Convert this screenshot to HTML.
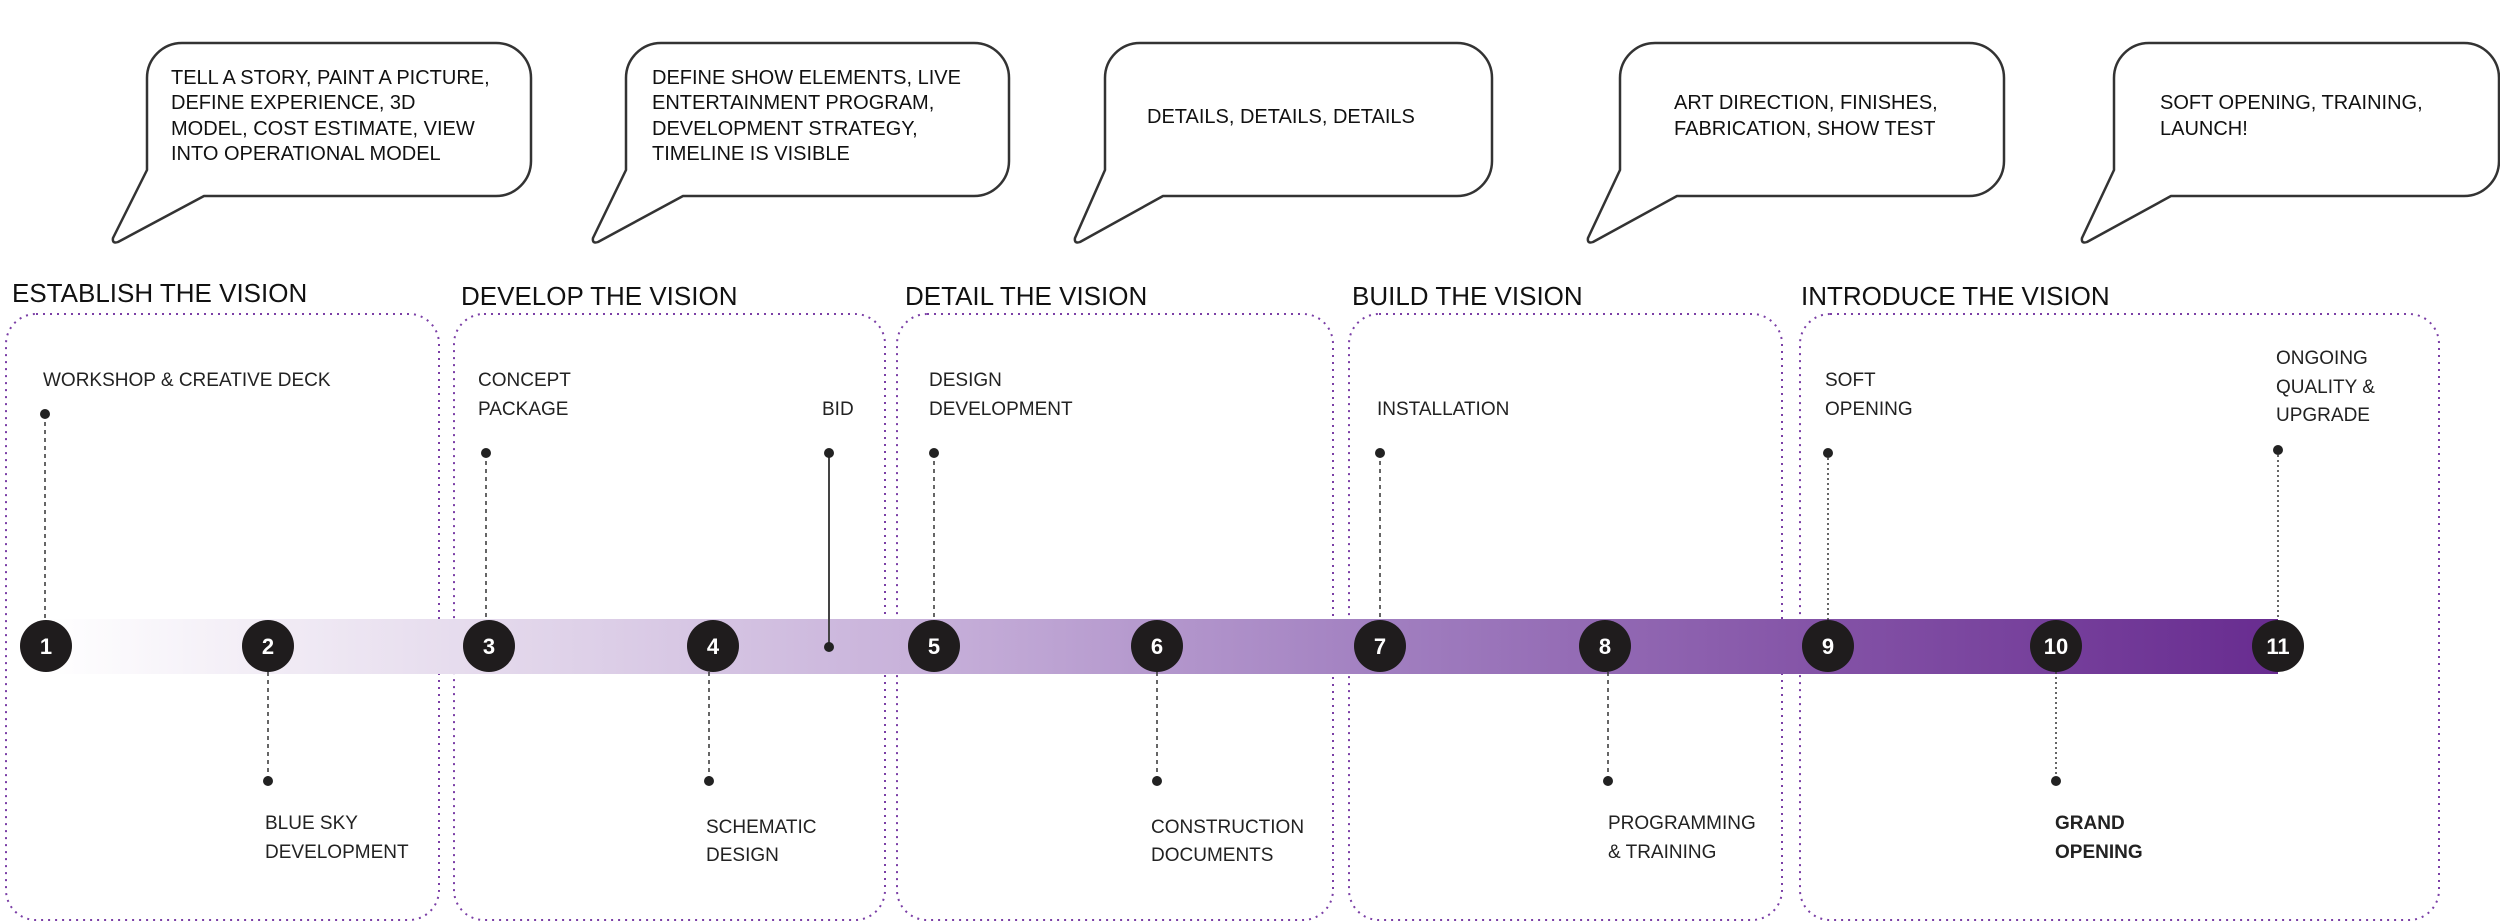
<!DOCTYPE html>
<html><head><meta charset="utf-8"><style>
html,body{margin:0;padding:0;background:#fff;width:2500px;height:922px;overflow:hidden}
svg text{font-family:"Liberation Sans",sans-serif}
.b{font-size:20px;fill:#111}
.h{font-size:26px;fill:#111}
.l{font-size:19px;fill:#222}
.n{font-size:22px;fill:#fff;font-weight:bold}
</style></head><body>
<svg width="2500" height="922" viewBox="0 0 2500 922" xmlns="http://www.w3.org/2000/svg">
<defs>
<linearGradient id="g" x1="46" y1="0" x2="2278" y2="0" gradientUnits="userSpaceOnUse">
<stop offset="0" stop-color="#ffffff"/>
<stop offset="0.2" stop-color="#e4d9ec"/>
<stop offset="0.4" stop-color="#c6afd9"/>
<stop offset="0.6" stop-color="#a17fc0"/>
<stop offset="0.8" stop-color="#8352a6"/>
<stop offset="1" stop-color="#682c90"/>
</linearGradient>
</defs>
<g fill="none" stroke="#333" stroke-width="2.5" stroke-linejoin="round">
<path d="M182,43 H496 A35,35 0 0 1 531,78 V161 A35,35 0 0 1 496,196 H204 L118,242 Q112,244 113,238 L147,170 V78 A35,35 0 0 1 182,43 Z"/>
<path d="M661,43 H974 A35,35 0 0 1 1009,78 V161 A35,35 0 0 1 974,196 H683 L598,242 Q592,244 593,238 L626,170 V78 A35,35 0 0 1 661,43 Z"/>
<path d="M1140,43 H1457 A35,35 0 0 1 1492,78 V161 A35,35 0 0 1 1457,196 H1163 L1080,242 Q1074,244 1075,238 L1105,170 V78 A35,35 0 0 1 1140,43 Z"/>
<path d="M1655,43 H1969 A35,35 0 0 1 2004,78 V161 A35,35 0 0 1 1969,196 H1677 L1593,242 Q1587,244 1588,238 L1620,170 V78 A35,35 0 0 1 1655,43 Z"/>
<path d="M2149,43 H2464 A35,35 0 0 1 2499,78 V161 A35,35 0 0 1 2464,196 H2171 L2087,242 Q2081,244 2082,238 L2114,170 V78 A35,35 0 0 1 2149,43 Z"/>
</g>
<text class="b" x="171" y="84">TELL A STORY, PAINT A PICTURE,</text>
<text class="b" x="171" y="109">DEFINE EXPERIENCE, 3D</text>
<text class="b" x="171" y="135">MODEL, COST ESTIMATE, VIEW</text>
<text class="b" x="171" y="160">INTO OPERATIONAL MODEL</text>
<text class="b" x="652" y="84">DEFINE SHOW ELEMENTS, LIVE</text>
<text class="b" x="652" y="109">ENTERTAINMENT PROGRAM,</text>
<text class="b" x="652" y="135">DEVELOPMENT STRATEGY,</text>
<text class="b" x="652" y="160">TIMELINE IS VISIBLE</text>
<text class="b" x="1147" y="123">DETAILS, DETAILS, DETAILS</text>
<text class="b" x="1674" y="109">ART DIRECTION, FINISHES,</text>
<text class="b" x="1674" y="135">FABRICATION, SHOW TEST</text>
<text class="b" x="2160" y="109">SOFT OPENING, TRAINING,</text>
<text class="b" x="2160" y="135">LAUNCH!</text>

<text class="h" x="12" y="302">ESTABLISH THE VISION</text>
<text class="h" x="461" y="305">DEVELOP THE VISION</text>
<text class="h" x="905" y="305">DETAIL THE VISION</text>
<text class="h" x="1352" y="305">BUILD THE VISION</text>
<text class="h" x="1801" y="305">INTRODUCE THE VISION</text>

<g fill="none" stroke="#7b3fa6" stroke-width="2" stroke-dasharray="2 5">
<rect x="6" y="314" width="433" height="606" rx="30"/>
<rect x="454" y="314" width="431" height="606" rx="30"/>
<rect x="897" y="314" width="436" height="606" rx="30"/>
<rect x="1349" y="314" width="433" height="606" rx="30"/>
<rect x="1800" y="314" width="639" height="606" rx="30"/>
</g>

<rect x="46" y="619" width="2232" height="55" fill="url(#g)"/>

<g stroke="#333" stroke-width="1.5" stroke-dasharray="4 4">
<line x1="45" y1="414" x2="45" y2="620"/>
<line x1="268" y1="672" x2="268" y2="781"/>
<line x1="486" y1="453" x2="486" y2="620"/>
<line x1="709" y1="672" x2="709" y2="781"/>
<line x1="934" y1="453" x2="934" y2="620"/>
<line x1="1157" y1="672" x2="1157" y2="781"/>
<line x1="1380" y1="453" x2="1380" y2="620"/>
<line x1="1608" y1="672" x2="1608" y2="781"/>
</g>
<g stroke="#333" stroke-width="1.5" stroke-dasharray="2 3">
<line x1="1828" y1="453" x2="1828" y2="620"/>
<line x1="2056" y1="672" x2="2056" y2="781"/>
<line x1="2278" y1="450" x2="2278" y2="620"/>
</g>
<line x1="829" y1="453" x2="829" y2="647" stroke="#444" stroke-width="2"/>

<g fill="#222">
<circle cx="45" cy="414" r="5"/><circle cx="268" cy="781" r="5"/><circle cx="486" cy="453" r="5"/>
<circle cx="829" cy="453" r="5"/><circle cx="829" cy="647" r="5"/><circle cx="709" cy="781" r="5"/>
<circle cx="934" cy="453" r="5"/><circle cx="1157" cy="781" r="5"/><circle cx="1380" cy="453" r="5"/>
<circle cx="1608" cy="781" r="5"/><circle cx="1828" cy="453" r="5"/><circle cx="2056" cy="781" r="5"/>
<circle cx="2278" cy="450" r="5"/>
</g>

<g fill="#1f1c1d">
<circle cx="46" cy="646" r="26"/><circle cx="268" cy="646" r="26"/><circle cx="489" cy="646" r="26"/>
<circle cx="713" cy="646" r="26"/><circle cx="934" cy="646" r="26"/><circle cx="1157" cy="646" r="26"/>
<circle cx="1380" cy="646" r="26"/><circle cx="1605" cy="646" r="26"/><circle cx="1828" cy="646" r="26"/>
<circle cx="2056" cy="646" r="26"/><circle cx="2278" cy="646" r="26"/>
</g>
<g class="n" text-anchor="middle">
<text class="n" x="46" y="654">1</text><text class="n" x="268" y="654">2</text><text class="n" x="489" y="654">3</text>
<text class="n" x="713" y="654">4</text><text class="n" x="934" y="654">5</text><text class="n" x="1157" y="654">6</text>
<text class="n" x="1380" y="654">7</text><text class="n" x="1605" y="654">8</text><text class="n" x="1828" y="654">9</text>
<text class="n" x="2056" y="654">10</text><text class="n" x="2278" y="654">11</text>
</g>

<text class="l" x="43" y="386">WORKSHOP &amp; CREATIVE DECK</text>
<text class="l" x="265" y="829">BLUE SKY</text><text class="l" x="265" y="858">DEVELOPMENT</text>
<text class="l" x="478" y="386">CONCEPT</text><text class="l" x="478" y="415">PACKAGE</text>
<text class="l" x="822" y="415">BID</text>
<text class="l" x="706" y="833">SCHEMATIC</text><text class="l" x="706" y="861">DESIGN</text>
<text class="l" x="929" y="386">DESIGN</text><text class="l" x="929" y="415">DEVELOPMENT</text>
<text class="l" x="1151" y="833">CONSTRUCTION</text><text class="l" x="1151" y="861">DOCUMENTS</text>
<text class="l" x="1377" y="415">INSTALLATION</text>
<text class="l" x="1608" y="829">PROGRAMMING</text><text class="l" x="1608" y="858">&amp; TRAINING</text>
<text class="l" x="1825" y="386">SOFT</text><text class="l" x="1825" y="415">OPENING</text>
<text class="l" x="2055" y="829" font-weight="bold" fill="#111">GRAND</text><text class="l" x="2055" y="858" font-weight="bold" fill="#111">OPENING</text>
<text class="l" x="2276" y="364">ONGOING</text><text class="l" x="2276" y="393">QUALITY &amp;</text><text class="l" x="2276" y="421">UPGRADE</text>
</svg>
</body></html>
